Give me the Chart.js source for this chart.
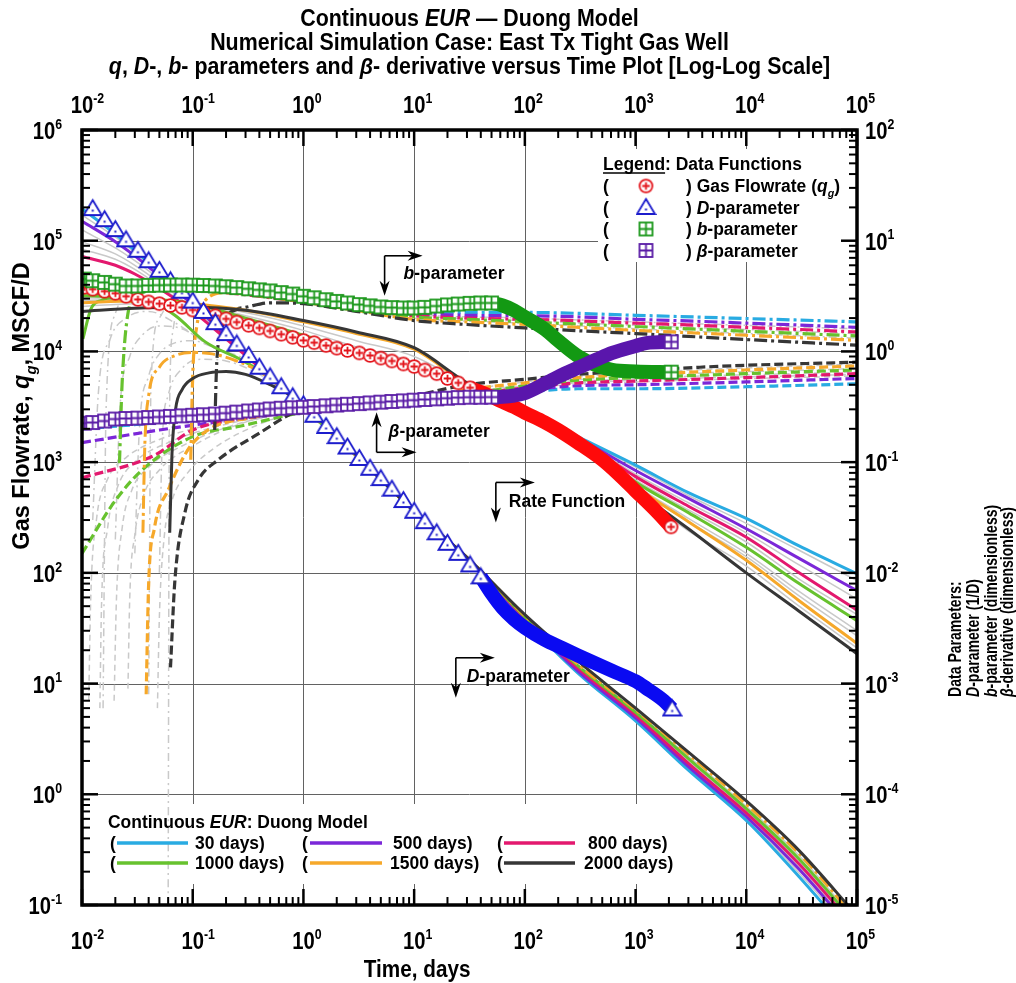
<!DOCTYPE html>
<html>
<head>
<meta charset="utf-8">
<script src="https://cdn.jsdelivr.net/npm/chart.js@4.4.1/dist/chart.umd.min.js"></script>
<style>
  html, body { margin: 0; padding: 0; background: #fff; }
  #wrap { width: 1016px; height: 983px; }
</style>
</head>
<body>
<div id="wrap"><canvas id="myChart" width="1016" height="983"></canvas></div>
<script>
// ---- axis ticks ----
var xDecades = [1e-2, 1e-1, 1, 10, 100, 1e3, 1e4, 1e5];
var yDecades = [1e-1, 1, 10, 100, 1e3, 1e4, 1e5, 1e6];
var y2Decades = [1e-5, 1e-4, 1e-3, 1e-2, 1e-1, 1, 10, 100];

// ---- data: marker part (days) ----
var tMark = [0.0105, 0.0125, 0.016, 0.02, 0.025, 0.032, 0.04, 0.05, 0.063, 0.08, 0.1, 0.125, 0.16, 0.2, 0.25, 0.32, 0.4, 0.5, 0.63, 0.8,
             1, 1.25, 1.6, 2, 2.5, 3.2, 4, 5, 6.3, 8, 10, 12.5, 16, 20, 25, 32, 40, 50];
var qMark = [38000, 36500, 35000, 33500, 31500, 29500, 28000, 27000, 26000, 25000, 23700, 22500, 21000, 19700, 18400, 17200, 16300, 15300, 14300, 13400,
             12600, 12000, 11300, 10700, 10200, 9700, 9200, 8700, 8200, 7700, 7300, 6800, 6300, 5700, 5200, 4700, null, null];
var dMark = [null, 19.5, 15.5, 12.6, 10.2, 8.2, 6.6, 5.4, 4.35, 3.5, 2.85, 2.3, 1.82, 1.45, 1.17, 0.92, 0.72, 0.59, 0.48, 0.39,
             0.33, 0.265, 0.21, 0.17, 0.137, 0.108, 0.088, 0.071, 0.057, 0.045, 0.036, 0.029, 0.023, 0.0185, 0.015, 0.0118, 0.0092, null];
var bMark = [4.5, 4.35, 4.2, 4.05, 3.9, 3.9, 3.95, 3.97, 3.98, 3.98, 3.97, 3.94, 3.9, 3.84, 3.77, 3.68, 3.6, 3.52, 3.4, 3.3,
             3.15, 3.05, 2.93, 2.83, 2.74, 2.65, 2.58, 2.52, 2.49, 2.47, 2.47, 2.5, 2.57, 2.63, 2.68, 2.72, 2.74, 2.74];
var betaMark = [0.225, 0.228, 0.235, 0.245, 0.248, 0.25, 0.253, 0.256, 0.259, 0.262, 0.265, 0.268, 0.272, 0.277, 0.283, 0.29, 0.296, 0.302, 0.307, 0.31,
                0.313, 0.318, 0.323, 0.328, 0.333, 0.338, 0.343, 0.348, 0.353, 0.358, 0.363, 0.368, 0.373, 0.378, 0.383, 0.386, 0.386, 0.387];

// ---- data: dense (band) part ----
var tRedBand = [32, 40, 50, 63, 80, 100, 150, 200, 300, 500, 700, 1000, 1500, 2090];
var qRedBand = [4700, 4300, 3900, 3500, 3150, 2800, 2300, 1950, 1500, 1050, 780, 550, 370, 260];
var tDBand = [40, 50, 63, 80, 100, 150, 216, 300, 616, 1000, 1245, 1800, 2140];
var dBand = [0.0092, 0.0065, 0.0048, 0.0038, 0.0032, 0.0025, 0.0021, 0.0018, 0.0013, 0.00105, 0.00091, 0.0007, 0.00059];
var tBBand = [50, 63, 80, 100, 155, 200, 310, 440, 616, 1000, 2100];
var bBand = [2.74, 2.6, 2.35, 2.05, 1.56, 1.25, 0.89, 0.75, 0.68, 0.66, 0.65];
var tBetaBand = [50, 63, 80, 100, 155, 200, 310, 450, 616, 1000, 1245, 2100];
var betaBand = [0.387, 0.39, 0.4, 0.42, 0.518, 0.59, 0.72, 0.85, 0.97, 1.12, 1.19, 1.22];

// ---- Duong model: rate (MSCF/D) ----
var rateT = [0.01, 0.03, 0.1, 0.3, 1, 3, 10, 30, 100, 300, 1000, 3000, 1e4, 3e4, 1e5];
var rate30 = [36500, 30000, 24000, 17500, 12900, 9800, 7200, 4900, 2900, 1700, 940, 530, 310, 175, 98];
var rate500 = [36000, 29800, 23900, 17400, 12850, 9750, 7150, 4880, 2880, 1660, 840, 470, 250, 135, 69];
var rate800 = [35000, 29500, 23800, 17300, 12800, 9700, 7100, 4860, 2860, 1620, 740, 400, 210, 100, 46];
var rate1000 = [32000, 30500, 27000, 20000, 14000, 10200, 7400, 4950, 2870, 1580, 660, 350, 170, 80, 37];
var rate1500 = [27500, 28500, 27000, 23500, 18500, 14500, 10500, 5100, 2900, 1520, 600, 290, 130, 56, 23];
var rate2000 = [23000, 24500, 25000, 23500, 19000, 15000, 10800, 5200, 2850, 1480, 560, 250, 100, 45, 18.6];
var rateGray = [
  [35500, 29800, 24000, 17500, 12900, 9800, 7200, 4900, 2900, 1680, 900, 500, 280, 160, 85],
  [34000, 29600, 24100, 17600, 13000, 9900, 7250, 4920, 2890, 1640, 780, 430, 230, 118, 58],
  [33000, 30000, 25000, 18500, 13500, 10000, 7300, 4930, 2880, 1600, 690, 370, 190, 88, 42],
  [30500, 30000, 26500, 21000, 15500, 11000, 8000, 5000, 2880, 1560, 620, 310, 150, 68, 30],
  [29000, 29500, 27000, 22500, 17000, 12500, 9000, 5050, 2890, 1540, 590, 290, 140, 62, 27],
  [25500, 27000, 26500, 23500, 18800, 14800, 10700, 5150, 2880, 1460, 540, 240, 115, 50, 21]
];

// ---- Duong model: D-parameter (1/D) ----
var dT = [0.01, 0.02, 0.03, 0.05, 0.1, 0.2, 0.3, 0.5, 1, 3, 10, 30, 100, 300, 1000, 3000, 1e4, 3e4, 1e5];
var d30 = [19.5, 11.5, 8.2, 5.2, 2.8, 1.45, 0.97, 0.6, 0.32, 0.115, 0.036, 0.0135, 0.0037, 0.00125, 0.00046, 0.000165, 0.000058, 0.000018, 0.0000045];
var d500 = [15, 9.8, 7.3, 4.8, 2.65, 1.4, 0.95, 0.6, 0.32, 0.115, 0.036, 0.0136, 0.0038, 0.0013, 0.00049, 0.000178, 0.000063, 0.000021, 0.0000053];
var d800 = [7.2, 6.0, 5.0, 3.7, 2.3, 1.3, 0.92, 0.59, 0.32, 0.115, 0.036, 0.0137, 0.0039, 0.00138, 0.00052, 0.00019, 0.000068, 0.0000235, 0.000006];
var d1000T = [0.0102, 0.012, 0.015, 0.02, 0.03, 0.045, 0.07, 0.13, 0.3, 0.5, 1, 3, 10, 30, 100, 300, 1000, 3000, 1e4, 3e4, 1e5];
var d1000 = [1.3, 2.4, 2.9, 3.05, 3.0, 2.75, 2.1, 1.22, 0.8, 0.57, 0.31, 0.114, 0.036, 0.0137, 0.004, 0.00145, 0.00055, 0.00021, 0.000074, 0.000026, 0.0000066];
var d1500T = [0.0355, 0.037, 0.04, 0.05, 0.07, 0.1, 0.15, 0.25, 0.4, 0.6, 1, 3, 10, 30, 100, 300, 1000, 3000, 1e4, 3e4, 1e5];
var d1500 = [0.023, 0.15, 0.4, 0.72, 0.92, 0.98, 0.95, 0.82, 0.66, 0.49, 0.31, 0.114, 0.036, 0.0138, 0.0041, 0.0015, 0.00058, 0.00023, 0.000081, 0.000029, 0.0000073];
var d2000T = [0.062, 0.065, 0.07, 0.08, 0.1, 0.14, 0.2, 0.3, 0.5, 0.8, 1.2, 3, 10, 30, 100, 300, 1000, 3000, 1e4, 3e4, 1e5];
var d2000 = [0.023, 0.12, 0.3, 0.45, 0.57, 0.64, 0.66, 0.62, 0.5, 0.39, 0.28, 0.116, 0.036, 0.0138, 0.0042, 0.0016, 0.0006, 0.00024, 0.000087, 0.000031, 0.000008];
var dGray = [
  [17, 10.8, 7.8, 5.0, 2.75, 1.43, 0.96, 0.6, 0.32, 0.115, 0.036, 0.0135, 0.00375, 0.00128, 0.00048, 0.00017, 0.00006, 0.0000195, 0.000005],
  [12.5, 8.6, 6.6, 4.5, 2.6, 1.38, 0.94, 0.6, 0.32, 0.115, 0.036, 0.0136, 0.00385, 0.00135, 0.0005, 0.000185, 0.000066, 0.000022, 0.0000056],
  [9.8, 7.6, 6.0, 4.2, 2.45, 1.35, 0.93, 0.59, 0.32, 0.115, 0.036, 0.0137, 0.004, 0.0014, 0.00054, 0.0002, 0.000071, 0.000025, 0.0000063],
  [8.4, 6.8, 5.5, 3.9, 2.35, 1.32, 0.92, 0.59, 0.32, 0.115, 0.036, 0.0138, 0.0041, 0.00148, 0.00057, 0.00022, 0.000078, 0.000028, 0.000007]
];
var humpT = [
  [0.0125, 0.014, 0.018, 0.025, 0.04, 0.07, 0.15, 0.3, 0.6, 1],
  [0.02, 0.022, 0.027, 0.035, 0.05, 0.08, 0.15, 0.3, 0.6, 1],
  [0.03, 0.033, 0.04, 0.05, 0.07, 0.1, 0.15, 0.3, 0.6, 1],
  [0.05, 0.053, 0.06, 0.08, 0.12, 0.2, 0.4, 0.8, 1.2]
];
var humpD = [
  [0.03, 0.4, 1.3, 2.0, 2.3, 1.8, 1.1, 0.85, 0.5, 0.32],
  [0.02, 0.3, 0.9, 1.4, 1.7, 1.6, 1.1, 0.82, 0.49, 0.32],
  [0.015, 0.2, 0.6, 0.95, 1.2, 1.25, 1.1, 0.8, 0.49, 0.32],
  [0.01, 0.15, 0.4, 0.7, 0.85, 0.82, 0.62, 0.39, 0.28]
];

// ---- Duong model: b-parameter ----
var bT = [0.01, 0.03, 0.1, 0.3, 1, 3, 10, 30, 100, 200, 1000, 3800, 1e4, 3e4, 1e5];
var b30 = [4.0, 3.85, 3.7, 3.35, 2.9, 2.5, 2.3, 2.25, 2.25, 2.23, 2.12, 2.04, 1.98, 1.92, 1.85];
var b500 = [3.9, 3.8, 3.65, 3.3, 2.85, 2.45, 2.2, 2.12, 2.1, 2.08, 1.95, 1.87, 1.8, 1.73, 1.65];
var b800 = [3.8, 3.75, 3.6, 3.25, 2.8, 2.4, 2.1, 2.0, 1.95, 1.92, 1.8, 1.72, 1.65, 1.58, 1.5];
var b1000T = [0.0218, 0.023, 0.026, 0.03, 0.04, 0.06, 0.1, 0.3, 1, 3, 10, 30, 100, 1000, 1e4, 1e5];
var b1000 = [0.098, 0.5, 2.2, 3.0, 3.6, 3.8, 3.7, 3.3, 2.8, 2.4, 2.05, 1.95, 1.85, 1.68, 1.52, 1.38];
var b1500T = [0.096, 0.1, 0.11, 0.13, 0.2, 0.4, 1, 3, 10, 30, 100, 1000, 1e4, 1e5];
var b1500 = [0.105, 0.6, 1.8, 2.9, 3.4, 3.2, 2.8, 2.35, 1.95, 1.85, 1.75, 1.55, 1.4, 1.26];
var b2000T = [0.158, 0.165, 0.19, 0.25, 0.3, 0.5, 1, 3, 10, 30, 100, 500, 1000, 3800, 1e4, 1e5];
var b2000 = [0.195, 0.8, 1.8, 2.4, 2.5, 2.75, 2.7, 2.3, 1.9, 1.75, 1.63, 1.5, 1.45, 1.35, 1.28, 1.14];
var bGrayT = [
  [0.0155, 0.0165, 0.02, 0.03, 0.06, 0.2, 1, 10, 100, 1000, 1e5],
  [0.06, 0.0615, 0.066, 0.075, 0.1, 0.2, 1, 10, 100, 1000, 1e5],
  [0.04, 0.042, 0.05, 0.07, 0.15, 1, 10, 100, 1000, 1e5]
];
var bGray = [
  [0.0006, 0.3, 2.2, 3.5, 3.8, 3.5, 2.85, 2.15, 2.0, 1.85, 1.6],
  [0.00001, 0.2, 1.5, 2.8, 3.4, 3.4, 2.75, 2.0, 1.8, 1.6, 1.32],
  [0.0008, 0.5, 2.0, 3.2, 3.5, 2.8, 2.1, 1.9, 1.72, 1.45]
];

// ---- Duong model: beta-derivative ----
var beta30T = [0.01, 0.1, 1, 10, 30, 100, 300, 1000, 1e4, 1e5];
var beta30 = [0.2, 0.24, 0.29, 0.34, 0.38, 0.43, 0.46, 0.46, 0.48, 0.51];
var beta500T = [0.01, 0.05, 0.3, 1, 10, 30, 100, 300, 1000, 1e4, 1e5];
var beta500 = [0.15, 0.195, 0.25, 0.29, 0.35, 0.39, 0.45, 0.49, 0.5, 0.53, 0.57];
var beta800T = [0.01, 0.045, 0.1, 0.3, 1, 10, 30, 100, 300, 1000, 1e4, 1e5];
var beta800 = [0.072, 0.115, 0.195, 0.25, 0.29, 0.35, 0.4, 0.47, 0.52, 0.54, 0.58, 0.63];
var beta1000T = [0.01, 0.02, 0.035, 0.1, 0.26, 1, 10, 30, 100, 300, 1000, 1e4, 1e5];
var beta1000 = [0.015, 0.045, 0.085, 0.17, 0.21, 0.28, 0.35, 0.41, 0.49, 0.55, 0.58, 0.63, 0.68];
var beta1500T = [0.038, 0.04, 0.045, 0.06, 0.1, 0.39, 1, 10, 30, 100, 300, 1000, 1e4, 1e5];
var beta1500 = [0.0008, 0.008, 0.025, 0.056, 0.148, 0.26, 0.29, 0.36, 0.45, 0.52, 0.58, 0.62, 0.68, 0.74];
var beta2000T = [0.063, 0.069, 0.085, 0.112, 0.17, 0.39, 0.9, 10, 30, 100, 300, 1000, 3800, 1e4, 1e5];
var beta2000 = [0.0014, 0.0085, 0.035, 0.069, 0.105, 0.18, 0.29, 0.4, 0.5, 0.56, 0.62, 0.67, 0.72, 0.75, 0.8];
var betaGrayT = [
  [0.0115, 0.012, 0.0135, 0.017, 0.025, 0.05, 0.15, 0.5, 1, 10, 100, 1000, 1e5],
  [0.0145, 0.015, 0.017, 0.021, 0.03, 0.06, 0.2, 1, 10, 100, 1000, 1e5],
  [0.0195, 0.0205, 0.023, 0.028, 0.04, 0.08, 0.25, 1, 10, 100, 1000, 1e5],
  [0.026, 0.027, 0.03, 0.036, 0.05, 0.1, 0.3, 1, 10, 100, 1000, 1e5],
  [0.048, 0.05, 0.055, 0.065, 0.09, 0.15, 0.4, 1, 10, 100, 1000, 1e5]
];
var betaGray = [
  [0.0007, 0.006, 0.03, 0.07, 0.11, 0.16, 0.22, 0.27, 0.29, 0.35, 0.47, 0.53, 0.6],
  [0.0006, 0.005, 0.025, 0.06, 0.1, 0.15, 0.22, 0.29, 0.35, 0.48, 0.55, 0.62],
  [0.0007, 0.006, 0.025, 0.055, 0.09, 0.14, 0.22, 0.29, 0.35, 0.49, 0.57, 0.65],
  [0.0009, 0.006, 0.022, 0.05, 0.085, 0.14, 0.23, 0.29, 0.36, 0.5, 0.6, 0.7],
  [0.0006, 0.004, 0.02, 0.045, 0.08, 0.13, 0.22, 0.29, 0.38, 0.53, 0.64, 0.77]
];

var caseNames = ['30 days)', '500 days)', '800 days)', '1000 days)', '1500 days)', '2000 days)'];
var caseColors = ['#29abe2', '#7b27d8', '#e3186e', '#67c22e', '#f6a82a', '#363636'];
var GRAY = '#c9c9c9';
var FONT = '"Liberation Sans", Arial, sans-serif';

function pts(ts, vs) {
  return ts.map(function (t, i) { return { x: t, y: vs[i] }; });
}

function makeMarker(kind, color) {
  var c = document.createElement('canvas');
  var s = kind === 'tri' ? 21 : 17;
  c.width = c.height = s;
  var g = c.getContext('2d'), m = s / 2;
  g.lineWidth = 1.8; g.strokeStyle = color; g.fillStyle = '#fff';
  if (kind === 'circ') {
    g.beginPath(); g.arc(m, m, 6.4, 0, 2 * Math.PI); g.fill(); g.stroke();
    g.beginPath(); g.moveTo(m - 3.8, m); g.lineTo(m + 3.8, m); g.moveTo(m, m - 3.8); g.lineTo(m, m + 3.8); g.stroke();
  } else if (kind === 'tri') {
    g.beginPath(); g.moveTo(m, m - 8.5); g.lineTo(m + 9, m + 6.5); g.lineTo(m - 9, m + 6.5); g.closePath(); g.fill(); g.stroke();
    g.fillStyle = color; g.fillRect(m - 1, m + 1, 2, 2);
  } else {
    g.fillRect(m - 6.5, m - 6.5, 13, 13); g.strokeRect(m - 6.5, m - 6.5, 13, 13);
    g.beginPath(); g.moveTo(m - 6.5, m); g.lineTo(m + 6.5, m); g.moveTo(m, m - 6.5); g.lineTo(m, m + 6.5); g.stroke();
  }
  return c;
}
var mkRate = makeMarker('circ', '#e3141b');
var mkD = makeMarker('tri', '#1c1ccc');
var mkB = makeMarker('sq', '#1b981b');
var mkBeta = makeMarker('sq', '#5a1ca6');

function line(ts, vs, color, width, dash, axis) {
  return {
    data: pts(ts, vs), yAxisID: axis || 'y', borderColor: color, borderWidth: width,
    borderDash: dash || [], pointRadius: 0, fill: false, cubicInterpolationMode: 'monotone', clip: 0
  };
}
function markers(ts, vs, img, axis) {
  return { data: pts(ts, vs), yAxisID: axis || 'y', showLine: false, pointStyle: img, pointRadius: 7, clip: 0 };
}
function band(ts, vs, color, img, axis) {
  return {
    data: pts(ts, vs), yAxisID: axis || 'y', borderColor: color, borderWidth: 14, fill: false,
    cubicInterpolationMode: 'monotone', clip: 0, pointStyle: img,
    pointRadius: function (c) { return c.dataIndex === ts.length - 1 ? 7 : 0; }
  };
}

var DASHDOT = [13, 4, 3, 4], DASH = [9, 4], GDASHDOT = [8, 4, 2, 4], GDASH = [6, 4];
var datasets = [];
// gray model curves
rateGray.forEach(function (v) { datasets.push(line(rateT, v, GRAY, 1.5)); });
dGray.forEach(function (v) { datasets.push(line(dT, v, GRAY, 1.5, null, 'y2')); });
humpD.forEach(function (v, i) { datasets.push(line(humpT[i], v, GRAY, 1.5, GDASHDOT, 'y2')); });
bGray.forEach(function (v, i) { datasets.push(line(bGrayT[i], v, GRAY, 1.5, GDASHDOT, 'y2')); });
betaGray.forEach(function (v, i) { datasets.push(line(betaGrayT[i], v, GRAY, 1.5, GDASH, 'y2')); });
// coloured model curves
[[beta30T, beta30], [beta500T, beta500], [beta800T, beta800], [beta1000T, beta1000], [beta1500T, beta1500], [beta2000T, beta2000]]
  .forEach(function (p, i) { datasets.push(line(p[0], p[1], caseColors[i], 3.2, DASH, 'y2')); });
[[bT, b30], [bT, b500], [bT, b800], [b1000T, b1000], [b1500T, b1500], [b2000T, b2000]]
  .forEach(function (p, i) { datasets.push(line(p[0], p[1], caseColors[i], 3.2, DASHDOT, 'y2')); });
[[dT, d30], [dT, d500], [dT, d800], [d1000T, d1000], [d1500T, d1500], [d2000T, d2000]]
  .forEach(function (p, i) { datasets.push(line(p[0], p[1], caseColors[i], 3, i === 4 ? DASHDOT : null, 'y2')); });
[rate30, rate500, rate800, rate1000, rate1500, rate2000]
  .forEach(function (v, i) { datasets.push(line(rateT, v, caseColors[i], 3)); });
// data functions
datasets.push(band(tRedBand, qRedBand, '#ff0a0a', mkRate));
datasets.push(markers(tMark, qMark, mkRate));
datasets.push(band(tDBand, dBand, '#0a0af2', mkD, 'y2'));
datasets.push(markers(tMark, dMark, mkD, 'y2'));
datasets.push(band(tBBand, bBand, '#139913', mkB, 'y2'));
datasets.push(markers(tMark, bMark, mkB, 'y2'));
datasets.push(band(tBetaBand, betaBand, '#5a16ac', mkBeta, 'y2'));
datasets.push(markers(tMark, betaMark, mkBeta, 'y2'));
datasets.forEach(function (d, i) { d.order = datasets.length - i; });

// ---- text helpers ----
function fnt(p, size) {
  var s = (p.sub || p.sup) ? Math.round(size * 0.62) : size;
  return (p.i ? 'italic ' : '') + 'bold ' + s + 'px ' + FONT;
}
function rich(ctx, segs, x, y, o) {
  var size = o.size, sx = o.sx || 1;
  ctx.save();
  ctx.translate(x, y);
  if (o.rot) ctx.rotate(o.rot);
  ctx.scale(sx, 1);
  ctx.textAlign = 'left'; ctx.textBaseline = 'alphabetic';
  ctx.fillStyle = '#000'; ctx.strokeStyle = '#000';
  var parts = segs.map(function (s) { return typeof s === 'string' ? { t: s } : Object.assign({}, s); });
  var w = 0;
  parts.forEach(function (p) { ctx.font = fnt(p, size); p.w = ctx.measureText(p.t).width; w += p.w; });
  var cx = o.align === 'center' ? -w / 2 : (o.align === 'right' ? -w : 0);
  parts.forEach(function (p) {
    ctx.font = fnt(p, size);
    var dy = p.sub ? size * 0.3 : (p.sup ? -size * 0.45 : 0);
    ctx.fillText(p.t, cx, dy);
    if (p.u) { ctx.lineWidth = 1.5; ctx.beginPath(); ctx.moveTo(cx, 3); ctx.lineTo(cx + p.w, 3); ctx.stroke(); }
    cx += p.w;
  });
  ctx.restore();
  return w * sx;
}
var TK = { size: 23, sx: 0.88 };
function powLabel(ctx, v, x, y, mode) {
  var e = Math.round(Math.log10(v));
  var segs = ['10', { t: String(e), sup: true }];
  ctx.font = 'bold ' + TK.size + 'px ' + FONT;
  var bw = ctx.measureText('10').width * TK.sx;
  var start = x;
  if (mode === 'center') start = x - bw / 2;
  if (mode === 'right') {
    ctx.font = 'bold ' + Math.round(TK.size * 0.62) + 'px ' + FONT;
    start = x - bw - ctx.measureText(String(e)).width * TK.sx;
  }
  rich(ctx, segs, start, y, { size: TK.size, sx: TK.sx });
}
function arrow(ctx, x1, y1, x2, y2) {
  var a = Math.atan2(y2 - y1, x2 - x1), L = 15, W = 5;
  ctx.beginPath(); ctx.moveTo(x1, y1); ctx.lineTo(x2 - L * 0.6 * Math.cos(a), y2 - L * 0.6 * Math.sin(a)); ctx.stroke();
  ctx.beginPath();
  ctx.moveTo(x2, y2);
  ctx.lineTo(x2 - L * Math.cos(a) + W * Math.sin(a), y2 - L * Math.sin(a) - W * Math.cos(a));
  ctx.lineTo(x2 - L * 0.7 * Math.cos(a), y2 - L * 0.7 * Math.sin(a));
  ctx.lineTo(x2 - L * Math.cos(a) - W * Math.sin(a), y2 - L * Math.sin(a) + W * Math.cos(a));
  ctx.closePath(); ctx.fill();
}
function elbow(ctx, cx, cy, vy, hx) {
  ctx.lineWidth = 1.6; ctx.strokeStyle = '#000'; ctx.fillStyle = '#000';
  arrow(ctx, cx, cy, cx, cy + vy);
  arrow(ctx, cx, cy, cx + hx, cy);
}

var decor = {
  id: 'decor',
  beforeDatasetsDraw: function (chart) {
    var ctx = chart.ctx, a = chart.chartArea, X = chart.scales.x, Y = chart.scales.y;
    ctx.save();
    ctx.strokeStyle = '#626262'; ctx.lineWidth = 1;
    xDecades.slice(1, -1).forEach(function (t) {
      var px = Math.round(X.getPixelForValue(t)) + 0.5;
      ctx.beginPath(); ctx.moveTo(px, a.top); ctx.lineTo(px, a.bottom); ctx.stroke();
    });
    yDecades.slice(1, -1).forEach(function (q) {
      var py = Math.round(Y.getPixelForValue(q)) + 0.5;
      ctx.beginPath(); ctx.moveTo(a.left, py); ctx.lineTo(a.right, py); ctx.stroke();
    });
    // legend backgrounds
    ctx.fillStyle = '#fff';
    ctx.fillRect(598, a.top + 19, a.right - 598, 113);
    ctx.fillRect(96, 804, 594, 80);
    ctx.restore();
  },
  afterDatasetsDraw: function (chart) {
    var ctx = chart.ctx, a = chart.chartArea;
    var X = chart.scales.x, Y = chart.scales.y, Y2 = chart.scales.y2;
    ctx.save();
    ctx.strokeStyle = '#000'; ctx.lineCap = 'butt';
    function seg(x1, y1, x2, y2, w) { ctx.lineWidth = w; ctx.beginPath(); ctx.moveTo(x1, y1); ctx.lineTo(x2, y2); ctx.stroke(); }
    var MAJ = 16, MIN = 8;
    xDecades.forEach(function (d, i) {
      var px = X.getPixelForValue(d);
      seg(px, a.top, px, a.top + MAJ, 2.5); seg(px, a.bottom, px, a.bottom - MAJ, 2.5);
      if (i < xDecades.length - 1) for (var k = 2; k < 10; k++) {
        var p = X.getPixelForValue(k * d);
        seg(p, a.top, p, a.top + MIN, 2); seg(p, a.bottom, p, a.bottom - MIN, 2);
      }
    });
    yDecades.forEach(function (d, i) {
      var py = Y.getPixelForValue(d);
      seg(a.left, py, a.left + MAJ, py, 2.5);
      if (i < yDecades.length - 1) for (var k = 2; k < 10; k++) {
        var p = Y.getPixelForValue(k * d); seg(a.left, p, a.left + MIN, p, 2);
      }
    });
    y2Decades.forEach(function (d, i) {
      var py = Y2.getPixelForValue(d);
      seg(a.right, py, a.right - MAJ, py, 2.5);
      if (i < y2Decades.length - 1) for (var k = 2; k < 10; k++) {
        var p = Y2.getPixelForValue(k * d); seg(a.right, p, a.right - MIN, p, 2);
      }
    });
    ctx.lineWidth = 3.5;
    ctx.strokeRect(a.left, a.top, a.right - a.left, a.bottom - a.top);

    // tick labels
    xDecades.forEach(function (d) {
      var px = X.getPixelForValue(d);
      powLabel(ctx, d, px, a.top - 17, 'center');
      powLabel(ctx, d, px, a.bottom + 44, 'center');
    });
    yDecades.forEach(function (d) { powLabel(ctx, d, a.left - 20, Y.getPixelForValue(d) + 9, 'right'); });
    y2Decades.forEach(function (d) { powLabel(ctx, d, a.right + 8, Y2.getPixelForValue(d) + 9, 'left'); });

    // titles
    var cx = (a.left + a.right) / 2;
    var T = { size: 23, sx: 0.93, align: 'center' };
    rich(ctx, ['Continuous ', { t: 'EUR', i: true }, ' \u2014 Duong Model'], cx, 26, T);
    rich(ctx, ['Numerical Simulation Case: East Tx Tight Gas Well'], cx, 50, T);
    rich(ctx, [{ t: 'q', i: true }, ', ', { t: 'D', i: true }, '-, ', { t: 'b', i: true }, '- parameters and ', { t: '\u03b2', i: true },
      '- derivative versus Time Plot [Log-Log Scale]'], cx, 74, T);
    rich(ctx, ['Time, days'], X.getPixelForValue(10) + 3, 977, { size: 23, sx: 0.9, align: 'center' });
    rich(ctx, ['Gas Flowrate, ', { t: 'q', i: true }, { t: 'g', i: true, sub: true }, ', MSCF/D'], 29, 406,
      { size: 24, sx: 0.98, align: 'center', rot: -Math.PI / 2 });
    var R = { size: 19, sx: 0.74, rot: -Math.PI / 2 };
    rich(ctx, ['Data Parameters:'], 961, 697, R);
    rich(ctx, [{ t: 'D', i: true }, '-parameter (1/D)'], 979, 697, R);
    rich(ctx, [{ t: 'b', i: true }, '-parameter (dimensionless)'], 997, 697, R);
    rich(ctx, [{ t: '\u03b2', i: true }, '-derivative (dimensionless)'], 1013, 697, R);

    // curve annotations
    var A = { size: 18, sx: 0.97 };
    var p;
    p = [X.getPixelForValue(5.41), Y.getPixelForValue(73100)];
    elbow(ctx, p[0], p[1], 40, 38); rich(ctx, [{ t: 'b', i: true }, '-parameter'], p[0] + 19, p[1] + 23, A);
    p = [X.getPixelForValue(4.58), Y.getPixelForValue(1227)];
    elbow(ctx, p[0], p[1], -40, 40); rich(ctx, [{ t: '\u03b2', i: true }, '-parameter'], p[0] + 12, p[1] - 15, A);
    p = [X.getPixelForValue(54.7), Y.getPixelForValue(656)];
    elbow(ctx, p[0], p[1], 40, 39); rich(ctx, ['Rate Function'], p[0] + 13, p[1] + 25, A);
    p = [X.getPixelForValue(23.8), Y.getPixelForValue(17.1)];
    elbow(ctx, p[0], p[1], 40, 39); rich(ctx, [{ t: 'D', i: true }, '-parameter'], p[0] + 11, p[1] + 24, A);

    // legend: data functions
    var L = { size: 18, sx: 0.97 };
    rich(ctx, [{ t: 'Legend', u: true }, ': Data Functions'], 603, 170, L);
    var rows = [
      [mkRate, [') Gas Flowrate (', { t: 'q', i: true }, { t: 'g', i: true, sub: true }, ')']],
      [mkD, [') ', { t: 'D', i: true }, '-parameter']],
      [mkB, [') ', { t: 'b', i: true }, '-parameter']],
      [mkBeta, [') ', { t: '\u03b2', i: true }, '-parameter']]
    ];
    rows.forEach(function (r, i) {
      var by = 192 + i * 21.5;
      rich(ctx, ['('], 603, by, L);
      ctx.drawImage(r[0], 646 - r[0].width / 2, by - 6 - r[0].height / 2);
      rich(ctx, r[1], 686, by, L);
    });

    // legend: model cases
    rich(ctx, ['Continuous ', { t: 'EUR', i: true }, ': Duong Model'], 108, 828, L);
    var colX = [[110, 117, 188], [302, 310, 382], [497, 504, 575]];
    var textX = [195, 393, 588, 195, 390, 584];
    caseNames.forEach(function (n, i) {
      var c = colX[i % 3], by = i < 3 ? 849 : 869;
      rich(ctx, ['('], c[0], by, L);
      ctx.strokeStyle = caseColors[i]; ctx.lineWidth = 3.5;
      ctx.beginPath(); ctx.moveTo(c[1], by - 6); ctx.lineTo(c[2], by - 6); ctx.stroke();
      rich(ctx, [n], textX[i], by, L);
    });
    ctx.restore();
  }
};

var ctx = document.getElementById('myChart').getContext('2d');
var myChart = new Chart(ctx, {
  type: 'line',
  data: { datasets: datasets },
  options: {
    responsive: false,
    animation: false,
    devicePixelRatio: 1,
    layout: { padding: { left: 82, right: 159, top: 130, bottom: 78 } },
    plugins: { legend: { display: false }, title: { display: false }, tooltip: { enabled: false } },
    scales: {
      x: { type: 'logarithmic', min: 1e-2, max: 1e5, display: false },
      y: { type: 'logarithmic', min: 1e-1, max: 1e6, display: false },
      y2: { type: 'logarithmic', min: 1e-5, max: 1e2, display: false, position: 'right' }
    }
  },
  plugins: [decor]
});
</script>
</body>
</html>
